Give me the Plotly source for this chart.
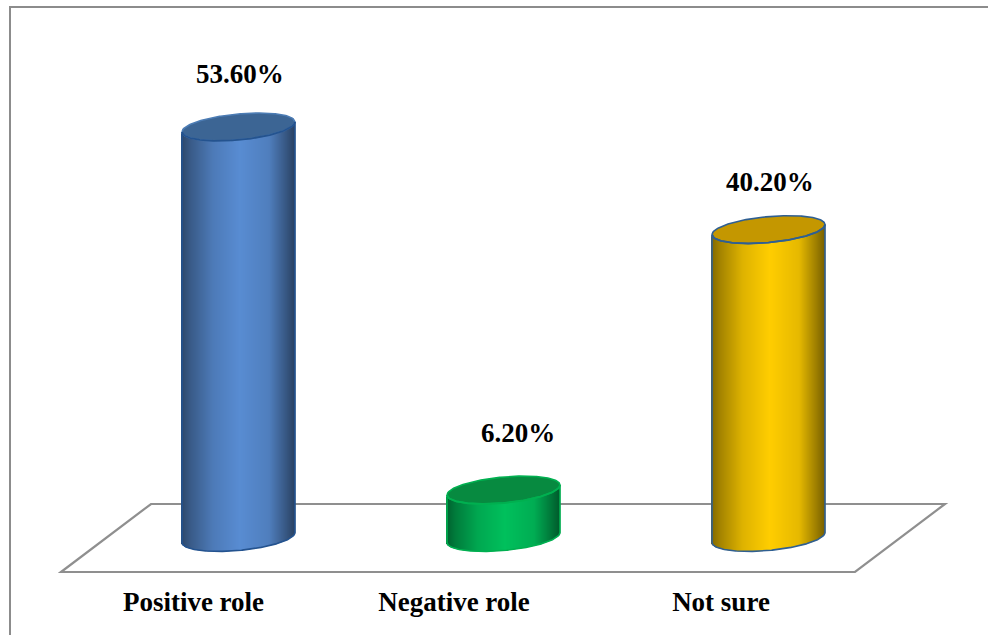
import numpy as np
import plotly.graph_objects as go

# Survey responses (percent) and how they are labelled
categories = ["Positive role", "Negative role", "Not sure"]
values = [53.6, 6.2, 40.2]
value_labels = ["53.60%", "6.20%", "40.20%"]

# Cylinder colours: side highlight, top face, rear rim, outline
side_colors = [(88, 140, 210), (0, 192, 92), (255, 205, 0)]
top_colors = ["#3c6594", "#078a40", "#c49700"]
rim_colors = ["#4c7cb4", "#00b050", "#2f5f92"]
edge_colors = ["#24538f", "#00b050", "#2f5f92"]

# Light falloff across the curved side of a cylinder
shade_pos = [0.0, 0.08, 0.28, 0.52, 0.78, 0.93, 1.0]
shade_amt = [0.5, 0.64, 0.87, 1.0, 0.9, 0.62, 0.48]

WIDTH, HEIGHT, BOTTOM = 988, 635, 57
PX_PER_CAT = 265.0      # horizontal pixels between categories
PX_PER_UNIT = 7.66      # vertical pixels per percentage point
X0_PX, Y0_PX = 238.5, 537.5  # page position of category 0 at value 0

# Ellipse that closes each cylinder, in category / value units
half_w = 56.5 / PX_PER_CAT
half_h = 13.0 / PX_PER_UNIT
shear = (5.0 / PX_PER_UNIT) / half_w


def arc(dx, sign):
    """Upper (+1) or lower (-1) edge of the ellipse at offset dx from its centre."""
    return shear * dx + sign * half_h * np.sqrt(np.clip(1 - (dx / half_w) ** 2, 0, 1))


fig = go.Figure()
STRIPS = 113
strip_w = 2 * half_w / STRIPS

for i, (val, side, top, rim, edge) in enumerate(
    zip(values, side_colors, top_colors, rim_colors, edge_colors)
):
    fracs = (np.arange(STRIPS) + 0.5) / STRIPS
    dx = (fracs - 0.5) * 2 * half_w
    shades = np.interp(fracs, shade_pos, shade_amt)
    colors = [f"rgb({side[0]*s:.0f},{side[1]*s:.0f},{side[2]*s:.0f})" for s in shades]

    # Curved side: thin bars, each as tall as the value, resting on the lower arc
    fig.add_trace(go.Bar(
        x=i + dx, y=np.full(STRIPS, val), base=arc(dx, -1),
        width=strip_w * 1.4, marker=dict(color=colors, line=dict(width=0)),
        hoverinfo="skip", showlegend=False,
    ))

    # Top face of the cylinder
    t = np.linspace(-half_w, half_w, 121)
    ring_x = np.r_[t, t[::-1]]
    ring_y = np.r_[arc(t, -1), arc(t[::-1], 1)] + val
    fig.add_trace(go.Scatter(
        x=i + ring_x, y=ring_y, mode="lines", fill="toself", fillcolor=top,
        line=dict(color=rim, width=1.6), hoverinfo="skip", showlegend=False,
    ))

    # Front lip of the top face
    fig.add_trace(go.Scatter(
        x=i + t, y=arc(t, -1) + val, mode="lines",
        line=dict(color=edge, width=1.8), hoverinfo="skip", showlegend=False,
    ))

    # Silhouette: down the left side, along the base, up the right side
    out_x = np.r_[-half_w, t, half_w]
    out_y = np.r_[arc(-half_w, -1) + val, arc(t, -1), arc(half_w, -1) + val]
    fig.add_trace(go.Scatter(
        x=i + out_x, y=out_y, mode="lines",
        line=dict(color=edge, width=1.6), hoverinfo="skip", showlegend=False,
    ))

# Value labels above each cylinder (pixel nudges from the top centre)
label_shift_x = [1, 14, 1]
label_shift_y = [53, 57, 48]
label_font = dict(family="Liberation Serif", size=27, color="black")
annotations = [
    dict(x=i, y=v, text=f"<b>{txt}</b>", showarrow=False, font=label_font,
         xshift=dx_, yshift=dy_, xanchor="center", yanchor="middle")
    for i, (v, txt, dx_, dy_) in enumerate(zip(values, value_labels, label_shift_x, label_shift_y))
]


# Floor plane, a grey parallelogram behind the cylinders
def cat_x(px):
    return (px - X0_PX) / PX_PER_CAT


def val_y(py):
    return (Y0_PX - py) / PX_PER_UNIT


floor = [(61, 572), (855, 572), (945, 504), (151, 504)]
floor_path = "M " + " L ".join(f"{cat_x(a):.4f},{val_y(b):.4f}" for a, b in floor) + " Z"
plot_h = HEIGHT - BOTTOM
shapes = [
    dict(type="path", path=floor_path, xref="x", yref="y", layer="below",
         line=dict(color="#8f8f8f", width=2.2), fillcolor="white"),
    # Thin frame along the top and left edges of the page
    dict(type="line", xref="paper", yref="paper", x0=9 / WIDTH, x1=1,
         y0=1 - 7 / plot_h, y1=1 - 7 / plot_h, line=dict(color="#8c8c8c", width=2)),
    dict(type="line", xref="paper", yref="paper", x0=10 / WIDTH, x1=10 / WIDTH,
         y0=1 - 7 / plot_h, y1=-BOTTOM / plot_h, line=dict(color="#8c8c8c", width=2)),
]

# Category names sit left of their cylinders
tick_shift_px = [45, 49.5, 47.5]

fig.update_layout(
    width=WIDTH, height=HEIGHT, margin=dict(l=0, r=0, t=0, b=BOTTOM, pad=0),
    paper_bgcolor="white", plot_bgcolor="white",
    barmode="overlay", showlegend=False, shapes=shapes, annotations=annotations,
    xaxis=dict(
        range=[cat_x(0), cat_x(WIDTH)], showgrid=False, zeroline=False, showline=False,
        tickmode="array", tickvals=[i - s / PX_PER_CAT for i, s in enumerate(tick_shift_px)],
        ticktext=[f"<b>{c}</b>" for c in categories],
        ticks="outside", ticklen=0, tickcolor="rgba(0,0,0,0)",
        tickfont=dict(family="Liberation Serif", size=27, color="black"),
    ),
    yaxis=dict(range=[val_y(plot_h), val_y(0)], visible=False),
)

fig.write_html("out.html", config=dict(displayModeBar=False))
